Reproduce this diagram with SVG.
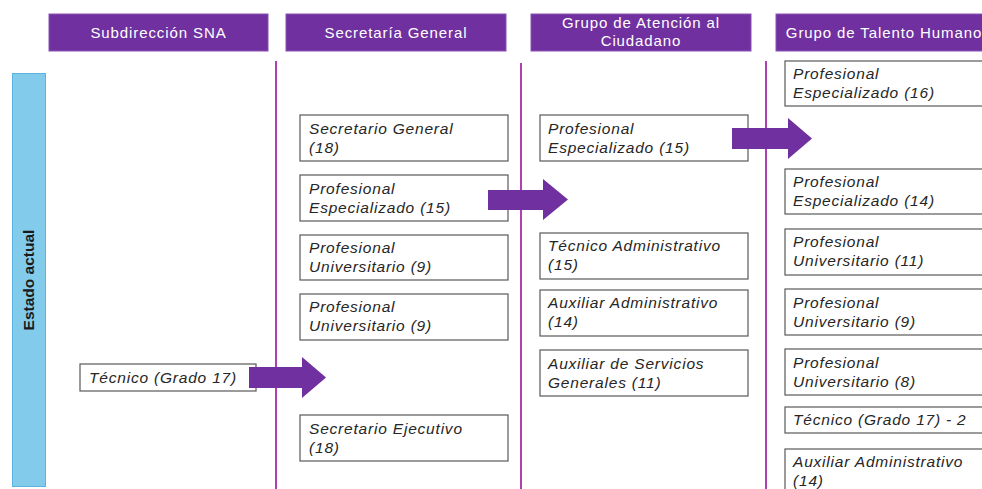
<svg xmlns="http://www.w3.org/2000/svg" width="982" height="489" viewBox="0 0 982 489">
<style>
.hdr{fill:#7030a0;stroke:#8a52b4;stroke-width:1}
.ht{font-family:"Liberation Sans",Arial,sans-serif;font-size:15px;letter-spacing:0.9px;fill:#ffffff;text-anchor:middle}
.box{fill:#ffffff;stroke:#595959;stroke-width:1.2}
.bt{font-family:"Liberation Sans",Arial,sans-serif;font-size:15.5px;letter-spacing:0.8px;font-style:italic;fill:#262626}
.vl{stroke:#b040b0;stroke-width:2}
.arr{fill:#7030a0}
</style>
<rect width="982" height="489" fill="#ffffff"/>
<g id="headers">
<g id="h-sna"><rect class="hdr" x="49" y="14" width="219" height="37"/><text class="ht" x="158.5" y="38">Subdirección SNA</text></g>
<g id="h-sg"><rect class="hdr" x="286" y="14" width="220" height="37"/><text class="ht" x="396" y="38">Secretaría General</text></g>
<g id="h-gac"><rect class="hdr" x="531" y="14" width="220" height="37"/><text class="ht" x="641" y="28">Grupo de Atención al</text><text class="ht" x="641" y="46">Ciudadano</text></g>
<g id="h-gth"><rect class="hdr" x="776" y="14" width="220" height="37"/><text class="ht" x="884" y="38">Grupo de Talento Humano</text></g>
</g>
<g id="estado-actual"><rect x="12.5" y="73.5" width="33" height="413" fill="#83cbeb" stroke="#5ab4e0" stroke-width="1"/><text transform="translate(34,280) rotate(-90)" text-anchor="middle" font-family="Liberation Sans,Arial,sans-serif" font-size="15.5" font-weight="bold" fill="#1a1a1a">Estado actual</text></g>
<g id="dividers">
<line class="vl" x1="276" y1="61" x2="276" y2="489"/>
<line class="vl" x1="521" y1="63" x2="521" y2="489"/>
<line class="vl" x1="766" y1="61" x2="766" y2="489"/>
</g>
<g id="n-tecnico"><rect class="box" x="80" y="364" width="176" height="27"/><text class="bt" x="89" y="383">Técnico (Grado 17)</text></g>
<g id="n-sg1"><rect class="box" x="300" y="115" width="208" height="46"/><text class="bt" x="309" y="134">Secretario General</text><text class="bt" x="309" y="153">(18)</text></g>
<g id="n-sg2"><rect class="box" x="300" y="175" width="208" height="46"/><text class="bt" x="309" y="194">Profesional</text><text class="bt" x="309" y="213">Especializado (15)</text></g>
<g id="n-sg3"><rect class="box" x="300" y="235" width="208" height="45"/><text class="bt" x="309" y="253">Profesional</text><text class="bt" x="309" y="272">Universitario (9)</text></g>
<g id="n-sg4"><rect class="box" x="300" y="294" width="208" height="46"/><text class="bt" x="309" y="312">Profesional</text><text class="bt" x="309" y="331">Universitario (9)</text></g>
<g id="n-sg5"><rect class="box" x="300" y="415" width="208" height="46"/><text class="bt" x="309" y="434">Secretario Ejecutivo</text><text class="bt" x="309" y="453">(18)</text></g>
<g id="n-ac1"><rect class="box" x="540" y="115" width="208" height="46"/><text class="bt" x="548" y="134">Profesional</text><text class="bt" x="548" y="153">Especializado (15)</text></g>
<g id="n-ac2"><rect class="box" x="540" y="233" width="208" height="46"/><text class="bt" x="548" y="251">Técnico Administrativo</text><text class="bt" x="548" y="270">(15)</text></g>
<g id="n-ac3"><rect class="box" x="540" y="290" width="208" height="46"/><text class="bt" x="548" y="308">Auxiliar Administrativo</text><text class="bt" x="548" y="327">(14)</text></g>
<g id="n-ac4"><rect class="box" x="540" y="350" width="208" height="46"/><text class="bt" x="548" y="369">Auxiliar de Servicios</text><text class="bt" x="548" y="388">Generales (11)</text></g>
<g id="n-th1"><rect class="box" x="785" y="61" width="210" height="45"/><text class="bt" x="793" y="79">Profesional</text><text class="bt" x="793" y="98">Especializado (16)</text></g>
<g id="n-th2"><rect class="box" x="785" y="169" width="210" height="45"/><text class="bt" x="793" y="187">Profesional</text><text class="bt" x="793" y="206">Especializado (14)</text></g>
<g id="n-th3"><rect class="box" x="785" y="229" width="210" height="46"/><text class="bt" x="793" y="247">Profesional</text><text class="bt" x="793" y="266">Universitario (11)</text></g>
<g id="n-th4"><rect class="box" x="785" y="289" width="210" height="46"/><text class="bt" x="793" y="308">Profesional</text><text class="bt" x="793" y="327">Universitario (9)</text></g>
<g id="n-th5"><rect class="box" x="785" y="349" width="210" height="46"/><text class="bt" x="793" y="368">Profesional</text><text class="bt" x="793" y="387">Universitario (8)</text></g>
<g id="n-th6"><rect class="box" x="785" y="407" width="210" height="26"/><text class="bt" x="793" y="425">Técnico (Grado 17) - 2</text></g>
<g id="n-th7"><rect class="box" x="785" y="449" width="210" height="46"/><text class="bt" x="793" y="467">Auxiliar Administrativo</text><text class="bt" x="793" y="486">(14)</text></g>
<g id="connectors">
<polygon class="arr" points="249,367 302,367 302,357 326,377.5 302,398 302,388 249,388"/>
<polygon class="arr" points="488,190 543,190 543,179 568,199.5 543,220 543,210 488,210"/>
<polygon class="arr" points="732,128 788,128 788,118 812,138.5 788,159 788,149 732,149"/>
</g>
</svg>
